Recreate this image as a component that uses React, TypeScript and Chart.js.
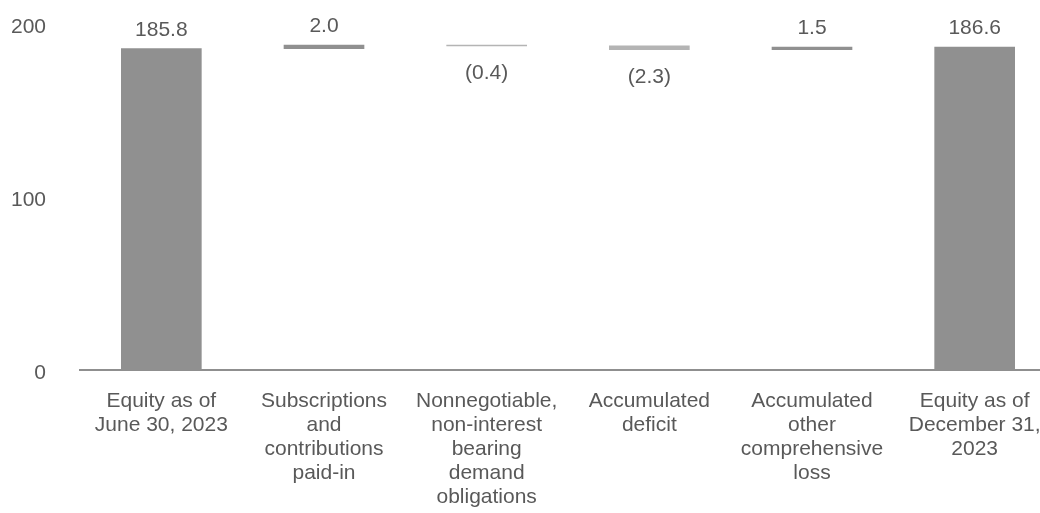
import { useEffect, useRef } from "react";
import { Chart, registerables } from "chart.js";

Chart.register(...registerables);

// Equity bridge, June 30 → December 31, 2023 (in millions)
const categories: string[][] = [
  ["Equity as of", "June 30, 2023"],
  ["Subscriptions", "and", "contributions", "paid-in"],
  ["Nonnegotiable,", "non-interest", "bearing", "demand", "obligations"],
  ["Accumulated", "deficit"],
  ["Accumulated", "other", "comprehensive", "loss"],
  ["Equity as of", "December 31,", "2023"],
];
const amounts = [185.8, 2.0, -0.4, -2.3, 1.5, 186.6];
const isTotal = [true, false, false, false, false, true];
const yTicks = [0, 100, 200];

const TEXT = "#595959";
const DARK = "#909090";
const LIGHT = "#b4b4b4";
const FONT = '"Liberation Sans", Arial, sans-serif';

// Floating [start, end] ranges for the waterfall
function buildRanges(): [number, number][] {
  let running = 0;
  return amounts.map((v, i) => {
    if (isTotal[i]) {
      running = v;
      return [0, v];
    }
    const start = running;
    running = +(start + v).toFixed(4);
    return [start, running];
  });
}

const formatAmount = (v: number) =>
  v < 0 ? `(${Math.abs(v).toFixed(1)})` : v.toFixed(1);

const valueLabels = {
  id: "valueLabels",
  afterDatasetsDraw(chart: Chart) {
    const ctx = chart.ctx;
    const meta = chart.getDatasetMeta(0);
    ctx.save();
    ctx.font = `21px ${FONT}`;
    ctx.fillStyle = TEXT;
    ctx.textAlign = "center";
    ctx.textBaseline = "alphabetic";
    meta.data.forEach((el: any, i: number) => {
      const v = amounts[i];
      const top = Math.min(el.y, el.base);
      const bottom = Math.max(el.y, el.base);
      const text = formatAmount(v);
      if (v < 0 && !isTotal[i]) {
        ctx.fillText(text, el.x, bottom + 33);
      } else {
        ctx.fillText(text, el.x, top - 13);
      }
    });
    ctx.restore();
  },
};

export default function App() {
  const canvasRef = useRef<HTMLCanvasElement | null>(null);

  useEffect(() => {
    if (!canvasRef.current) return;
    const ranges = buildRanges();
    const colors = amounts.map((v, i) => (isTotal[i] || v >= 0 ? DARK : LIGHT));

    const chart = new Chart(canvasRef.current, {
      type: "bar",
      data: {
        labels: categories,
        datasets: [
          {
            data: ranges as any,
            backgroundColor: colors,
            borderWidth: 0,
            barThickness: 80,
          },
        ],
      },
      options: {
        responsive: false,
        animation: false,
        layout: { padding: { top: 24, left: 0, right: 0, bottom: 0 } },
        plugins: {
          legend: { display: false },
          tooltip: { enabled: false },
        },
        scales: {
          x: {
            grid: { display: false, drawTicks: false },
            border: { display: true, color: "#8f8f8f", width: 2 },
            ticks: {
              color: TEXT,
              font: { family: FONT, size: 21, lineHeight: 1.15 },
              padding: 19,
              maxRotation: 0,
              autoSkip: false,
            },
            afterFit: (scale: any) => {
              scale.height = 143;
              scale.paddingLeft = 0;
              scale.paddingRight = 0;
            },
          },
          y: {
            min: 0,
            max: 200,
            grid: { display: false, drawTicks: false },
            border: { display: false },
            ticks: {
              color: TEXT,
              font: { family: FONT, size: 21 },
              padding: 34,
              labelOffset: 3,
            },
            afterBuildTicks: (scale: any) => {
              scale.ticks = yTicks.map((value) => ({ value }));
            },
            afterFit: (scale: any) => {
              scale.width = 80;
              scale.paddingTop = 0;
              scale.paddingBottom = 0;
            },
          },
        },
      },
      plugins: [valueLabels],
    });

    return () => chart.destroy();
  }, []);

  return (
    <div
      style={{
        position: "fixed",
        left: 0,
        top: 0,
        width: 1040,
        height: 513,
        overflow: "hidden",
        background: "#ffffff",
      }}
    >
      <canvas ref={canvasRef} width={1056} height={513} style={{ display: "block" }} />
    </div>
  );
}
